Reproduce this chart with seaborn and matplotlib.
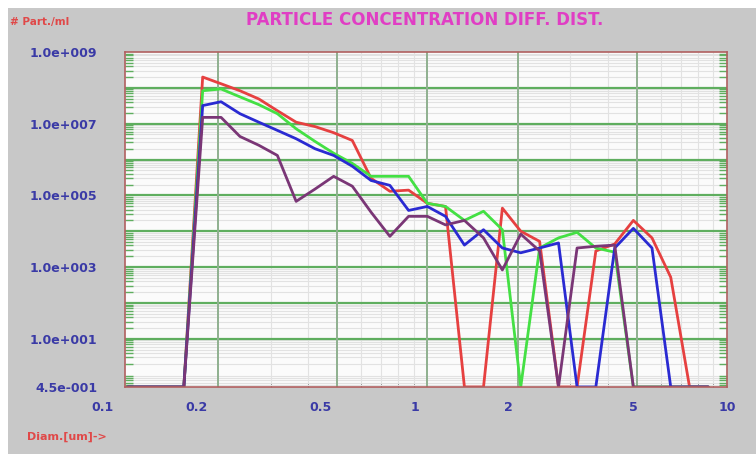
import matplotlib
matplotlib.use("Agg")
import matplotlib.pyplot as plt
from matplotlib.patches import Rectangle
from matplotlib.ticker import LogLocator, NullFormatter, NullLocator
import pandas as pd
import seaborn as sns

# particle diameter bins (um), 16 per decade
diameters = [0.100, 0.115, 0.133, 0.154, 0.178, 0.205, 0.237, 0.274,
             0.316, 0.365, 0.422, 0.487, 0.562, 0.649, 0.750, 0.866,
             1.00, 1.15, 1.33, 1.54, 1.78, 2.05, 2.37, 2.74,
             3.16, 3.65, 4.22, 4.87, 5.62, 6.49, 7.50, 8.66]

# concentrations (# part./ml), 0.45 = bottom of scale (no count)
red_counts = [0.45, 0.45, 0.45, 0.45, 2.0e8, 1.3e8, 8.3e7, 4.9e7,
              2.3e7, 1.1e7, 8.3e6, 5.6e6, 3.4e6, 3.0e5, 1.3e5, 1.4e5,
              6.0e4, 4.9e4, 0.45, 0.45, 4.4e4, 1.0e4, 5.2e3, 0.45,
              0.45, 2.8e3, 4.4e3, 2.0e4, 6.5e3, 5.2e2, 0.45, 0.45]
green_counts = [0.45, 0.45, 0.45, 0.45, 8.3e7, 9.3e7, 5.6e7, 3.4e7,
                1.9e7, 7.2e6, 3.2e6, 1.5e6, 7.8e5, 3.4e5, 3.4e5, 3.4e5,
                6.0e4, 4.9e4, 2.0e4, 3.6e4, 1.1e4, 0.45, 3.4e3, 6.5e3,
                9.3e3, 3.4e3, 2.6e3, 0.45, 0.45, 0.45, 0.45, 0.45]
blue_counts = [0.45, 0.45, 0.45, 0.45, 3.2e7, 4.1e7, 1.9e7, 1.1e7,
               6.5e6, 3.8e6, 2.0e6, 1.3e6, 6.5e5, 2.6e5, 1.9e5, 3.8e4,
               4.9e4, 2.6e4, 4.1e3, 1.1e4, 3.4e3, 2.5e3, 3.4e3, 4.7e3,
               0.45, 0.45, 3.4e3, 1.2e4, 3.4e3, 0.45, 0.45, 0.45]
purple_counts = [0.45, 0.45, 0.45, 0.45, 1.5e7, 1.5e7, 4.4e6, 2.5e6,
                 1.3e6, 6.8e4, 1.5e5, 3.4e5, 1.8e5, 3.4e4, 7.2e3, 2.6e4,
                 2.6e4, 1.5e4, 2.0e4, 6.5e3, 8.3e2, 8.3e3, 2.8e3, 0.45,
                 3.4e3, 3.8e3, 4.1e3, 0.45, 0.45, 0.45, 0.45, 0.45]

series_names = ["red", "green", "blue", "purple"]
series_colors = ["#e64040", "#44e044", "#2a2ad2", "#7a3676"]

x_ticks = [0.1, 0.2, 0.5, 1, 2, 5, 10]
x_labels = ["0.1", "0.2", "0.5", "1", "2", "5", "10"]
y_ticks = [0.45, 1e1, 1e3, 1e5, 1e7, 1e9]
y_labels = ["4.5e-001", "1.0e+001", "1.0e+003", "1.0e+005", "1.0e+007", "1.0e+009"]

frames = []
for name, counts in zip(series_names, [red_counts, green_counts, blue_counts, purple_counts]):
    frames.append(pd.DataFrame({"diam": diameters, "count": counts, "series": name}))
df = pd.concat(frames, ignore_index=True)

sns.set_style("white")
plt.rcParams["font.family"] = ["DejaVu Sans"]

W, H = 756, 454
label_color = "#3a3aa6"
fig = plt.figure(figsize=(W / 100, H / 100), dpi=100, facecolor="white")
fig.patches.append(Rectangle((8 / W, 0), 1, 1 - 8 / H, transform=fig.transFigure,
                             facecolor="#c8c8c8", edgecolor="none", zorder=-5))

# the instrument prints its x labels on a slightly wider scale than the grid
lab_ax = fig.add_axes([102 / W, 1 - 387 / H, (727 - 102) / W, (387 - 52) / H])
lab_ax.set_xscale("log")
lab_ax.set_xlim(0.1, 10)
lab_ax.set_xticks(x_ticks)
lab_ax.set_xticklabels(x_labels)
lab_ax.xaxis.set_minor_locator(NullLocator())
lab_ax.yaxis.set_major_locator(NullLocator())
lab_ax.tick_params(axis="x", length=0, pad=10, labelsize=9, labelcolor=label_color)
for lab in lab_ax.get_xticklabels():
    lab.set_fontweight("bold")
lab_ax.patch.set_visible(False)
for spine in lab_ax.spines.values():
    spine.set_visible(False)

ax = fig.add_axes([125 / W, 1 - 387 / H, (727 - 125) / W, (387 - 52) / H])
ax.set_facecolor("#fbfbfb")

sns.lineplot(data=df, x="diam", y="count", hue="series", hue_order=series_names,
             palette=series_colors, estimator=None, sort=False, legend=False,
             linewidth=2, ax=ax)

ax.set_xscale("log")
ax.set_yscale("log")
ax.set_xlim(0.098, 10)
ax.set_ylim(0.45, 1e9)

# grid: green decades, faint grey minor lines
ax.yaxis.set_minor_locator(LogLocator(base=10, subs=[2, 3, 4, 5, 6, 7, 8, 9], numticks=20))
ax.yaxis.set_minor_formatter(NullFormatter())
ax.xaxis.set_minor_locator(LogLocator(base=10, subs=[2, 3, 4, 5, 6, 7, 8, 9], numticks=20))
ax.xaxis.set_minor_formatter(NullFormatter())
ax.grid(which="minor", axis="both", color="#e2e2e2", linewidth=0.8)
for yv in [1e1, 1e2, 1e3, 1e4, 1e5, 1e6, 1e7, 1e8]:
    ax.axhline(yv, color="#5fae5f", linewidth=1.6, zorder=0.6)
for xv in [0.2, 0.5, 1, 2, 5]:
    ax.axvline(xv, color="#8fb08f", linewidth=1.4, zorder=0.6)
ax.set_axisbelow(True)

ax.set_yticks(y_ticks)
ax.set_yticklabels(y_labels)
ax.set_xticks(x_ticks)
ax.set_xticklabels([])
ax.tick_params(axis="y", which="major", length=0, pad=20, labelsize=9,
               labelcolor=label_color)
ax.tick_params(axis="x", which="major", length=0)
ax.tick_params(axis="y", which="minor", direction="in", length=6, width=1,
               color="#5fae5f", left=True, right=True)
ax.tick_params(axis="x", which="minor", direction="in", length=3, color="#888888",
               bottom=True)
for lab in ax.get_yticklabels():
    lab.set_fontweight("bold")

for spine in ax.spines.values():
    spine.set_color("#b06060")
    spine.set_linewidth(1.2)

ax.set_xlabel("")
ax.set_ylabel("")

fig.text(425 / W, 1 - 20 / H, "PARTICLE CONCENTRATION DIFF. DIST.", ha="center", va="center",
         color="#e03ec4", fontsize=12, fontweight="bold")
fig.text(10 / W, 1 - 22 / H, "# Part./ml", ha="left", va="center",
         color="#e04848", fontsize=7.5, fontweight="bold")
fig.text(27 / W, 1 - 437 / H, "Diam.[um]->", ha="left", va="center",
         color="#e04848", fontsize=8, fontweight="bold")

fig.savefig("out.png", dpi=100, facecolor=fig.get_facecolor())
